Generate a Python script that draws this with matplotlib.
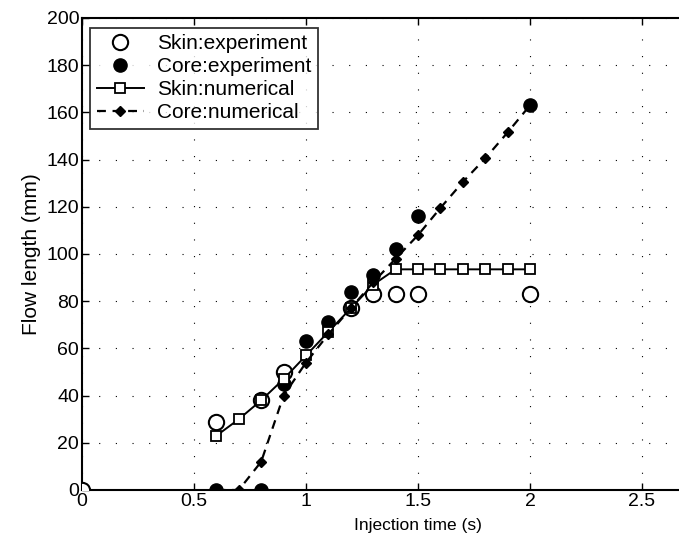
#!/usr/bin/env python3
"""Skin / core flow length versus injection time, experiment vs numerical."""

import matplotlib
matplotlib.use("Agg")
import matplotlib.pyplot as plt

# experiment
skin_exp_t = [0.0, 0.6, 0.8, 0.9, 1.2, 1.3, 1.4, 1.5, 2.0]
skin_exp_len = [0, 29, 38, 50, 77, 83, 83, 83, 83]
core_exp_t = [0.6, 0.8, 0.9, 1.0, 1.1, 1.2, 1.3, 1.4, 1.5, 2.0]
core_exp_len = [0, 0, 45, 63, 71, 84, 91, 102, 116, 163]

# numerical
skin_num_t = [0.6, 0.7, 0.8, 0.9, 1.0, 1.1, 1.2, 1.3, 1.4, 1.5, 1.6, 1.7, 1.8, 1.9, 2.0]
skin_num_len = [23, 30, 38, 47, 57, 67, 77, 87, 93.5, 93.5, 93.5, 93.5, 93.5, 93.5, 93.5]
core_num_t = [0.6, 0.7, 0.8, 0.9, 1.0, 1.1, 1.2, 1.3, 1.4, 1.5, 1.6, 1.7, 1.8, 1.9, 2.0]
core_num_len = [0, 0, 12, 40, 54, 66, 77, 88, 98, 108, 119.5, 130.5, 140.5, 151.5, 163]

x_ticks = [0, 0.5, 1, 1.5, 2, 2.5]
x_tick_labels = ["0", "0.5", "1", "1.5", "2", "2.5"]
y_ticks = [0, 20, 40, 60, 80, 100, 120, 140, 160, 180, 200]

plt.rcParams["font.family"] = ["Liberation Sans", "DejaVu Sans"]

fig = plt.figure(figsize=(6.79, 5.44), dpi=100)
# axes run to x=3 and get cut by the right edge, as in the scan
ax = fig.add_axes([82 / 679, 1 - 490 / 544, 672 / 679, 472 / 544])

ax.plot(skin_exp_t, skin_exp_len, "o", mfc="white", mec="k", mew=1.5, ms=11,
        ls="none", label="Skin:experiment", zorder=3)
ax.plot(core_exp_t, core_exp_len, "o", color="k", ms=9.5, ls="none",
        label="Core:experiment", zorder=3)
ax.plot(skin_num_t, skin_num_len, "-s", color="k", mfc="white", mec="k", mew=1.3,
        ms=6.5, lw=1.4, label="Skin:numerical", zorder=4)
ax.plot(core_num_t, core_num_len, "--D", color="k", ms=5, lw=1.6,
        dashes=(4, 3), label="Core:numerical", zorder=4)

ax.set_xlim(0, 3)
ax.set_ylim(0, 200)
ax.set_xticks(x_ticks)
ax.set_xticklabels(x_tick_labels)
ax.set_yticks(y_ticks)
ax.tick_params(direction="in", length=5, width=1, labelsize=14, top=True, right=True,
               pad=2)
for s in ax.spines.values():
    s.set_linewidth(1.5)

ax.grid(True, color="k", linestyle=(0, (1, 14)), linewidth=0.8)

ax.set_xlabel("Injection time (s)", fontsize=12.5, labelpad=6)
ax.set_ylabel("Flow length (mm)", fontsize=15, labelpad=4)

leg = ax.legend(loc="upper left", bbox_to_anchor=(0.003, 0.993), fontsize=15,
                frameon=True, fancybox=False, edgecolor="k", handlelength=2.3,
                borderpad=0.3, labelspacing=0.2, handletextpad=0.6,
                borderaxespad=0.3)
leg.get_frame().set_linewidth(1.3)

fig.savefig("out.png", dpi=100)
